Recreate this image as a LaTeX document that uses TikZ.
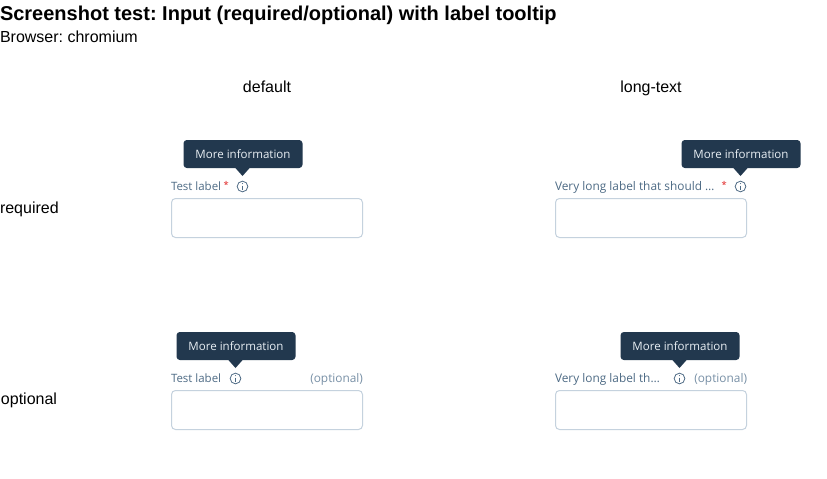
\documentclass[tikz,border=0pt]{standalone}
\usepackage{fontspec}
\setmainfont{Liberation Sans}
\newfontfamily\uifont{Open Sans}
\frenchspacing
\definecolor{tipbg}{HTML}{22384E}
\definecolor{labelc}{HTML}{4E6B85}
\definecolor{optc}{HTML}{7890A6}
\definecolor{boxc}{HTML}{C5D2DE}
\definecolor{reqc}{HTML}{E02020}
\definecolor{tiptext}{HTML}{E8EEF3}
\tikzset{
  x=0.75pt,y=-0.75pt,
  plain/.style={inner sep=0,outer sep=0},
  heading/.style={plain,font=\fontsize{12}{14}\selectfont,text=black},
  fieldbox/.style={draw=boxc,line width=0.75pt,rounded corners=3pt,fill=white,minimum width=143.25pt,minimum height=29.25pt,inner sep=0,outer sep=0,anchor=north west},
  fieldlabel/.style={plain,anchor=base west,font=\uifont\fontsize{8.6}{10}\selectfont,text=labelc},
  longlabel/.style={plain,anchor=base west,font=\uifont\fontsize{8.9}{10}\selectfont,text=labelc},
  opttext/.style={plain,anchor=base east,font=\uifont\fontsize{8.9}{10}\selectfont,text=optc},
  reqmark/.style={plain,anchor=base west,font=\uifont\fontsize{7}{10}\selectfont,text=reqc},
  tipbox/.style={fill=tipbg,rounded corners=2.5pt,minimum width=89.25pt,minimum height=21pt,inner sep=0,outer sep=0,anchor=north west,text=tiptext,font=\uifont\fontsize{8.65}{10}\selectfont},
  infoicon/.style={draw=labelc,circle,line width=0.6pt,minimum size=8pt,inner sep=0},
}
\begin{document}
\begin{tikzpicture}
\useasboundingbox (0,0) rectangle (827,478);
\fill[white] (0,0) rectangle (827,478);
\node[plain,anchor=base west,font=\bfseries\fontsize{15}{18}\selectfont] (title) at (0,20.5) {Screenshot test: Input (required/optional) with label tooltip};
\node[plain,anchor=base west,font=\fontsize{12}{14}\selectfont] (browser) at (0,42.5) {Browser: chromium};
\node[heading,anchor=base] (cola) at (267,92) {default};
\node[heading,anchor=base] (colb) at (651,92) {long-text};
\node[heading,anchor=base west] (rowa) at (0,213) {required};
\node[heading,anchor=base west] (rowb) at (1,404) {optional};

% required / default
\node[fieldbox] (f1) at (171.5,198.5) {};
\node[fieldlabel] (l1) at (171,190) {Test label};
\node[reqmark] (r1) at (223.5,188.5) {*};
\node[infoicon] (i1) at (242.5,186.5) {};
\fill[labelc] (242.5,183.6) circle (0.45pt);
\draw[labelc,line width=0.6pt] (242.5,185.5) -- (242.5,189.5);
\fill[tipbg] (234.5,167) -- (242.5,176) -- (250.5,167) -- cycle;
\node[tipbox] (t1) at (183.5,140) {More information};

% required / long-text
\node[fieldbox] (f2) at (555.5,198.5) {};
\node[longlabel] (l2) at (555,190) {Very long label that should …};
\node[reqmark] (r2) at (721.5,188.5) {*};
\node[infoicon] (i2) at (740.5,186.5) {};
\fill[labelc] (740.5,183.6) circle (0.45pt);
\draw[labelc,line width=0.6pt] (740.5,185.5) -- (740.5,189.5);
\fill[tipbg] (732.5,167) -- (740.5,176) -- (748.5,167) -- cycle;
\node[tipbox] (t2) at (681.5,140) {More information};

% optional / default
\node[fieldbox] (f3) at (171.5,390.5) {};
\node[fieldlabel] (l3) at (171,382) {Test label};
\node[opttext] (o3) at (363,382) {(optional)};
\node[infoicon] (i3) at (235.5,378.5) {};
\fill[labelc] (235.5,375.6) circle (0.45pt);
\draw[labelc,line width=0.6pt] (235.5,377.5) -- (235.5,381.5);
\fill[tipbg] (227.5,359) -- (235.5,368) -- (243.5,359) -- cycle;
\node[tipbox] (t3) at (176.5,332) {More information};

% optional / long-text
\node[fieldbox] (f4) at (555.5,390.5) {};
\node[longlabel] (l4) at (555,382) {Very long label th…};
\node[opttext] (o4) at (747,382) {(optional)};
\node[infoicon] (i4) at (679.5,378.5) {};
\fill[labelc] (679.5,375.6) circle (0.45pt);
\draw[labelc,line width=0.6pt] (679.5,377.5) -- (679.5,381.5);
\fill[tipbg] (671.5,359) -- (679.5,368) -- (687.5,359) -- cycle;
\node[tipbox] (t4) at (620.5,332) {More information};
\end{tikzpicture}
\end{document}
